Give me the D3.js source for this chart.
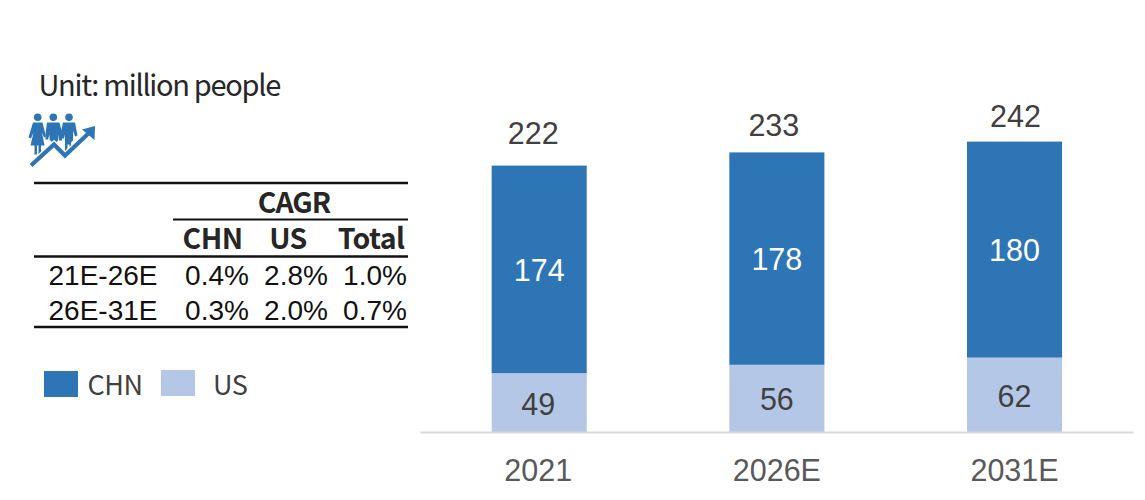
<!DOCTYPE html>
<html><head><meta charset="utf-8">
<script src="https://cdn.jsdelivr.net/npm/d3@7"></script>
<style>html,body{margin:0;padding:0;background:#fff}svg{display:block}</style>
</head><body><svg id="c" width="1145" height="500"></svg>
<script>
const categories=["2021","2026E","2031E"];
const chn=[174,178,180];
const us=[49,56,62];
const totals=[222,233,242];
const totalNudge=[[-6,-1],[-3,5],[1,6]];
const chnNudge=[[0,1],[0,0],[0,0]];
const usNudge=[[-1,0],[0,0],[0,0]];
const catNudge=[-1,0,0];
const tableHeads=["CHN","US","Total"];
const tableRows=[["21E-26E","0.4%","2.8%","1.0%"],["26E-31E","0.3%","2.0%","0.7%"]];
const legendItems=["CHN","US"];
const colors={CHN:"#2e75b6",US:"#b4c7e7"};
const sans="'Liberation Sans',Arial,sans-serif", kr="'Noto Sans CJK KR','Noto Sans',sans-serif";

const svg=d3.select("#c");
const x=d3.scaleBand().domain(categories).range([420,1133]).paddingInner(0.6).paddingOuter(0.3).align(0.5025);
const y=d3.scaleLinear().domain([0,242]).range([432,141.6]);
const NUM=30.5;

const g=svg.append("g");
categories.forEach((c,i)=>{
  g.append("rect").attr("x",x(c)).attr("width",x.bandwidth()).attr("y",y(us[i])).attr("height",y(0)-y(us[i])).attr("fill",colors.US);
  g.append("rect").attr("x",x(c)).attr("width",x.bandwidth()).attr("y",y(totals[i])).attr("height",y(us[i])-y(totals[i])).attr("fill",colors.CHN);
  const cx=x(c)+x.bandwidth()/2;
  const lab=(t,px,py,col,n)=>g.append("text").attr("x",px+n[0]).attr("y",py+n[1]).attr("text-anchor","middle").attr("font-family",sans).attr("font-size",NUM).attr("fill",col).text(t);
  lab(us[i],cx,(y(us[i])+y(0))/2+12,"#404040",usNudge[i]);
  lab(chn[i],cx,(y(us[i])+y(totals[i]))/2+11,"#fff",chnNudge[i]);
  lab(totals[i],cx,y(totals[i])-21,"#404040",totalNudge[i]);
});
const ax=svg.append("g").attr("transform","translate(0,432)").call(d3.axisBottom(x).tickSize(0).tickPadding(27));
ax.select(".domain").attr("stroke","#d9d9d9").attr("stroke-width",2);
ax.selectAll("text").attr("font-family",sans).attr("font-size",NUM).attr("fill","#595959").attr("dx",(d,i)=>catNudge[i]);

svg.append("text").attr("x",38.5).attr("y",96).attr("font-family",kr).attr("font-size",29).attr("letter-spacing",-1.3).attr("fill","#262626").text("Unit: million people");

// icon
const ic=svg.append("g").attr("fill","#2e75b6");
[37.7,53.3,69].forEach(cx=>ic.append("circle").attr("cx",cx).attr("cy",117.3).attr("r",3.8));
ic.append("path").attr("d","M33 122.500h9.500l3.500 14l-2 1l-2 -5l2.500 13h-3.500v9h-2.500v-9h-1.500v9h-2.500v-9h-4l3 -13l-2.500 6l-2.500 -1z");
ic.append("path").attr("d","M47 122.500h12.500l2.500 10v8h-3l-1 -6v6l-3 3h-2l-3.500 -4v-5l-1.500 5h-2.500v-6z");
ic.append("path").attr("d","M63 122.500h12l2.500 13l-2.500 1l-2 -6v10l-2 2v7h-1.500v-5h-2v7h-2.500v-17l-1 4h-3v-7z");
ic.append("path").attr("fill","none").attr("stroke","#fff").attr("stroke-width",7).attr("d","M31 165.500L54 144.500L65 155.500L86 136");
ic.append("path").attr("fill","none").attr("stroke","#2e75b6").attr("stroke-width",4.2).attr("d","M31 165.500L54 144.500L65 155.500L90 132");
ic.append("path").attr("d","M82 129.500L95 126L94.500 140z");

// table
const lines=[[34,408,183,2.4],[173,408,219.500,2],[34,408,256.500,2.4],[34,408,327,2.4]];
svg.selectAll("line.t").data(lines).join("line").attr("x1",d=>d[0]).attr("x2",d=>d[1]).attr("y1",d=>d[2]).attr("y2",d=>d[2]).attr("stroke","#111").attr("stroke-width",d=>d[3]);
svg.append("text").attr("x",294).attr("y",213).attr("text-anchor","middle").attr("font-family",kr).attr("font-weight",700).attr("font-size",28.5).attr("letter-spacing",-1).attr("fill","#262626").text("CAGR");
const headX=[212.500,288,371];
tableHeads.forEach((h,i)=>svg.append("text").attr("x",headX[i]).attr("y",249).attr("text-anchor","middle").attr("font-family",kr).attr("font-weight",700).attr("font-size",28.5).attr("letter-spacing",-0.6).attr("fill","#262626").text(h));
const colX=[103,217,296,375], rowY=[285,320];
tableRows.forEach((r,ri)=>r.forEach((t,ci)=>svg.append("text").attr("x",colX[ci]).attr("y",rowY[ri]).attr("text-anchor","middle").attr("font-family",sans).attr("font-size",28).attr("fill","#111").text(t)));

// legend
const legX=[44,161], legY=[371,370], legT=[87.500,213];
legendItems.forEach((t,i)=>{
  svg.append("rect").attr("x",legX[i]).attr("y",legY[i]).attr("width",34).attr("height",26).attr("fill",colors[t]);
  svg.append("text").attr("x",legT[i]).attr("y",395).attr("font-family",kr).attr("font-size",27).attr("letter-spacing",-0.5).attr("fill","#404040").text(t);
});
</script></body></html>
